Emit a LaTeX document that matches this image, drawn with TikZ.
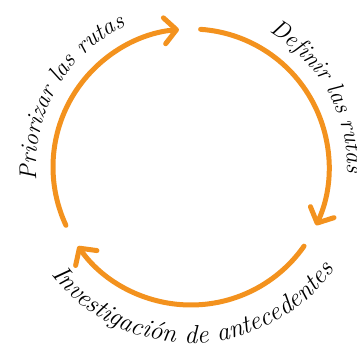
\documentclass[tikz,border=0pt]{standalone}
\usepackage{fontspec}
\usetikzlibrary{arrows.meta,decorations.text}
\definecolor{orng}{RGB}{243,146,30}
\newcommand\lblfontA{\fontsize{24}{24}\selectfont\itshape}
\newcommand\lblfontB{\fontsize{26}{26}\selectfont\itshape}
\begin{document}
\begin{tikzpicture}[x=1pt,y=1pt,
  cyc/.style={draw=orng, line width=5pt, line cap=round,
    -{Straight Barb[length=12pt,width=26pt,line cap=round,line join=round]}},
  lbl/.style={decorate, decoration={text along path, text align=center, text color=black}}]
\useasboundingbox (0,0) rectangle (357,347);
\clip (0,0) rectangle (357,347);
\coordinate (c) at (191,180);
% arrows
\draw[cyc] (c) ++(205:138) arc[start angle=205,end angle=95,radius=138];
\draw[cyc] (c) ++(86:138) arc[start angle=86,end angle=-25,radius=138];
\draw[cyc] (c) ++(-35:138) arc[start angle=-35,end angle=-145,radius=138];
% labels
\path[lbl, decoration={text={|\lblfontA|Priorizar las rutas}}]
  (c) ++(200:155) arc[start angle=200,end angle=100,radius=155];
\path[decorate, decoration={text along path, text align=left, text color=black,
  text={|\lblfontA|Definir las rutas}}]
  (c) ++(60:156) arc[start angle=60,end angle=-60,radius=156];
\path[lbl, decoration={text={|\lblfontB|Investigación de antecedentes}}]
  (c) ++(200:176) arc[start angle=200,end angle=342,radius=176];
\end{tikzpicture}
\end{document}
